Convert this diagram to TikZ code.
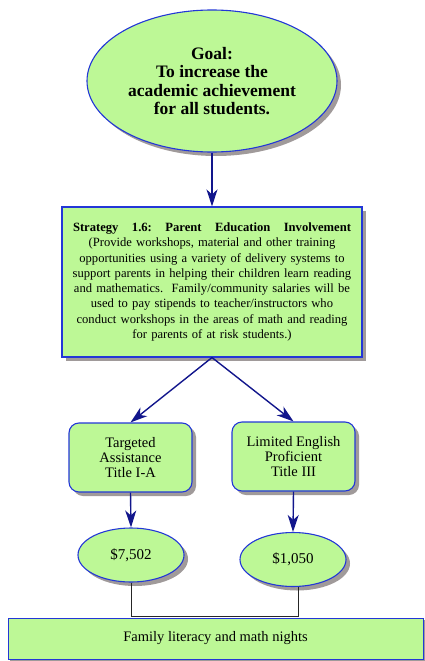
\documentclass[tikz,border=0pt]{standalone}
\usepackage{fontspec}
\setmainfont{Liberation Serif}
\usetikzlibrary{shapes.geometric,shadows,arrows.meta}
\definecolor{boxgreen}{RGB}{189,248,150}
\definecolor{edgeblue}{RGB}{35,55,215}
\definecolor{arrownavy}{RGB}{18,22,140}
\definecolor{shadowgray}{RGB}{160,154,154}

\begin{document}
\begin{tikzpicture}[x=1pt,y=-1pt,
  shade/.style={drop shadow={shadow xshift=4pt,shadow yshift=-4pt,fill=shadowgray,opacity=1}},
  base/.style={draw=edgeblue,line width=1.1pt,fill=boxgreen,shade,inner sep=0pt,align=center},
  goalnode/.style={base,ellipse,minimum width=250pt,minimum height=142pt,
    font=\fontsize{17.5}{18.5}\selectfont\bfseries},
  stratnode/.style={base,rectangle,minimum width=300pt,minimum height=150pt,
    text width=294pt,font=\fontsize{12.6}{15.3}\selectfont},
  fundnode/.style={base,rectangle,rounded corners=10pt,minimum width=123pt,minimum height=69pt,
    font=\fontsize{14.5}{15.3}\selectfont},
  costnode/.style={base,ellipse,minimum width=106pt,minimum height=54pt,
    font=\fontsize{15}{16}\selectfont},
  usenode/.style={base,rectangle,line width=0.9pt,drop shadow={shadow xshift=2pt,shadow yshift=-2pt,fill=shadowgray,opacity=1},
    minimum width=415pt,minimum height=41pt,font=\fontsize{14.5}{16}\selectfont},
  flow/.style={draw=arrownavy,line width=1.4pt,-{Stealth[length=17pt,width=11pt,inset=5pt]}},
  joinline/.style={draw=black!85,line width=1pt}]
\useasboundingbox (0,0) rectangle (425,661);

\node[goalnode] (goal) at (212,81) {Goal:\\To increase the\\academic achievement\\for all students.};
\node[stratnode] (strat) at (212,282) {\hbox to 278pt{\bfseries Strategy\hfill 1.6:\hfill Parent\hfill Education\hfill Involvement}\\
(Provide workshops, material and other training\\
opportunities using a variety of delivery systems to\\
support parents in helping their children learn reading\\
and mathematics.\ \ Family/community salaries will be\\
used to pay stipends to teacher/instructors who\\
conduct workshops in the areas of math and reading\\
for parents of at risk students.)};
\node[fundnode] (title1) at (130.5,457.5) {Targeted\\Assistance\\Title I-A};
\node[fundnode] (title3) at (293.5,456.5) {Limited English\\Proficient\\Title III};
\node[costnode] (cost1) at (131,555) {\$7,502};
\node[costnode] (cost3) at (293,559.5) {\$1,050};
\node[usenode] (nights) at (215.5,638.5) {Family literacy and math nights};

\draw[flow] (goal.south) -- (strat.north);
\draw[flow] (strat.south) -- (title1.north);
\draw[flow] (strat.south) -- (title3.north);
\draw[flow] (title1.south) -- (cost1.north);
\draw[flow] (title3.south) -- (cost3.north);
\draw[joinline] (cost1.south) |- ([yshift=1pt]nights.north) -| ([xshift=5pt]cost3.south);
\end{tikzpicture}
\end{document}
